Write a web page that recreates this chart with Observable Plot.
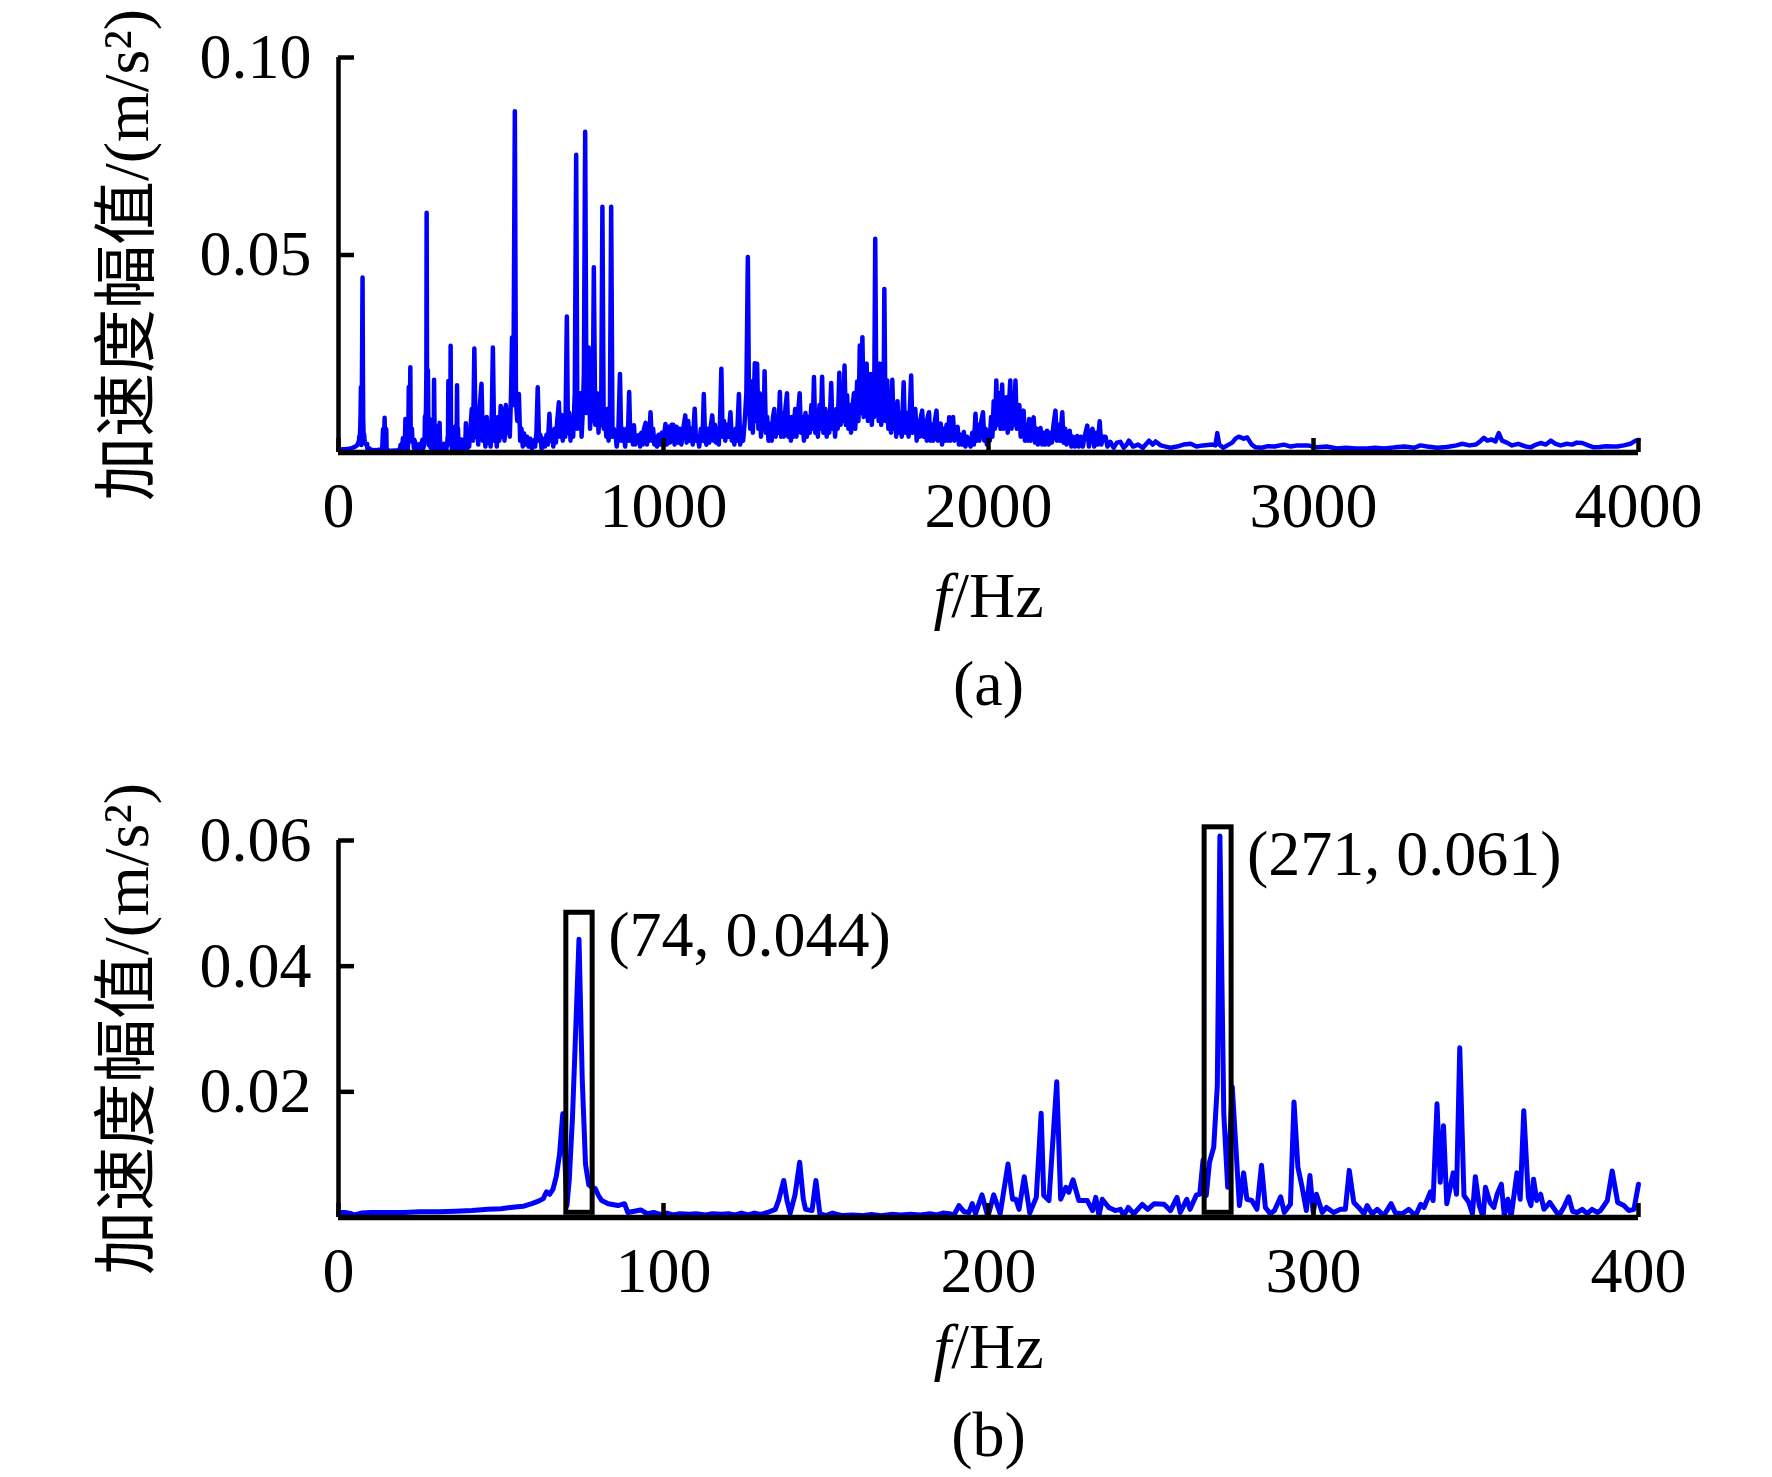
<!DOCTYPE html>
<html><head><meta charset="utf-8">
<script src="https://cdn.jsdelivr.net/npm/d3@7"></script>
<script src="https://cdn.jsdelivr.net/npm/@observablehq/plot@0.6"></script>
<style>
html,body{margin:0;padding:0;background:#fff;overflow:hidden;}
#chart svg{display:block;}
</style></head><body><div id="chart"></div>
<script>
// Spectrum 0–400 Hz: [frequency Hz, amplitude m/s²]
const lowBand = [[0,0.0008],[2,0.0008],[4,0.0006],[5,0.0004],[7,0.0007],[10,0.0008],[15,0.0008],[20,0.0008],[25,0.0009],[31,0.0009],[36,0.0010],[41,0.0011],[46,0.0013],[50,0.0014],[53,0.0016],[55,0.0017],[57,0.0018],[59.5,0.0022],[61.5,0.0026],[63,0.0030],[64,0.0041],[65,0.0037],[66,0.0045],[67,0.0065],[68,0.0100],[69,0.0165],[70.3,0.0019],[71,0.0060],[72,0.0160],[73,0.0300],[74,0.0443],[75,0.0220],[76,0.0085],[77,0.0052],[78,0.0048],[79,0.0046],[80,0.0035],[81,0.0027],[83,0.0022],[86,0.0019],[88,0.0022],[89,0.0008],[91,0.0010],[93,0.0012],[95,0.0006],[97,0.0008],[99,0.0005],[101,0.0007],[103,0.0004],[105,0.0006],[108,0.0005],[110,0.0006],[113,0.0004],[115,0.0006],[118,0.0005],[120,0.0006],[122,0.0004],[124,0.0007],[126,0.0004],[128,0.0007],[130,0.0005],[132,0.0008],[134.4,0.0013],[135.4,0.0027],[137,0.0059],[138,0.0027],[139,0.0007],[140.5,0.0037],[141.9,0.0088],[143,0.0030],[143.7,0.0013],[145.7,0.0011],[146.9,0.0059],[148.1,0.0006],[150,0.0003],[152,0.0007],[155,0.0003],[158,0.0004],[161,0.0003],[164,0.0005],[167,0.0003],[170,0.0005],[173,0.0004],[176,0.0005],[179,0.0004],[182,0.0006],[184,0.0004],[186,0.0007],[188,0.0006],[189.4,0.0004],[190.9,0.0019],[192.5,0.0009],[194,0.0008],[195,0.0022],[196,0.0006],[198,0.0036],[199.8,0.0001],[201.6,0.0036],[203.6,0.0006],[206,0.0085],[207.4,0.0029],[208.4,0.0029],[209.4,0.0013],[211,0.0065],[212.7,0.0007],[214.7,0.0032],[216.2,0.0166],[217,0.0035],[218.6,0.0027],[221,0.0216],[222.2,0.0029],[223.8,0.0048],[224.7,0.0040],[226,0.0060],[227.8,0.0027],[230.4,0.0027],[232,0.0011],[233,0.0032],[234,0.0003],[235,0.0029],[237,0.0016],[239,0.0011],[240.6,0.0013],[241.6,0.0003],[243,0.0016],[244.7,0.0006],[247.3,0.0021],[249,0.0013],[251,0.0022],[254,0.0021],[256,0.0011],[258,0.0032],[259,0.0008],[261,0.0029],[262,0.0013],[264,0.0036],[265,0.0037],[266,0.0091],[267,0.0035],[268,0.0088],[269.3,0.0112],[270.4,0.0210],[271.2,0.0607],[272.4,0.0165],[273.6,0.0048],[275,0.0208],[277.2,0.0019],[278.5,0.0071],[279.5,0.0029],[281,0.0027],[282.6,0.0013],[284,0.0083],[285.2,0.0016],[286.7,0.0006],[288,0.0011],[289.9,0.0033],[291,0.0008],[292.9,0.0021],[294,0.0184],[295.2,0.0080],[296.5,0.0048],[297.8,0.0011],[298.9,0.0067],[299.9,0.0008],[300.9,0.0037],[302.7,0.0008],[304,0.0016],[306.2,0.0008],[308.3,0.0013],[309.8,0.0013],[311,0.0075],[312.4,0.0024],[313.9,0.0016],[315.5,0.0006],[316.5,0.0019],[318,0.0006],[319.6,0.0013],[321.6,0.0003],[323.9,0.0022],[325.2,0.0007],[327.3,0.0006],[329.3,0.0013],[331.4,0.0003],[333,0.0021],[334,0.0016],[336,0.0041],[336.8,0.0027],[338,0.0181],[339,0.0056],[340,0.0146],[341,0.0022],[343,0.0071],[344,0.0037],[345,0.0270],[346.3,0.0035],[347.8,0.0024],[348.9,0.0006],[349.8,0.0065],[351,0.0019],[352.2,0.0001],[352.9,0.0048],[354.3,0.0024],[355.5,0.0016],[356.5,0.0037],[357.8,0.0053],[358.7,0.0003],[359.8,0.0029],[360.8,0.0001],[362.6,0.0071],[363.6,0.0029],[364.7,0.0170],[366.1,0.0032],[366.9,0.0019],[367.7,0.0061],[368.7,0.0027],[369.9,0.0037],[370.9,0.0013],[372.7,0.0024],[375.5,0.0003],[377,0.0016],[378.5,0.0033],[379.7,0.0010],[381.2,0.0008],[382.7,0.0013],[384.2,0.0006],[385.7,0.0013],[387.3,0.0008],[388.3,0.0011],[390.4,0.0027],[391.9,0.0074],[393.6,0.0024],[395.5,0.0019],[397,0.0011],[398.6,0.0013],[400,0.0053]];

// Spectrum 400–4000 Hz: [frequency Hz, amplitude m/s²]
const highBand = [[402,0.0015],[406,0.0060],[410,0.0110],[414,0.0030],[418,0.0263],[422,0.0040],[426,0.0080],[430,0.0020],[434,0.0110],[440,0.0174],[444,0.0030],[448,0.0070],[452,0.0015],[456,0.0090],[460,0.0025],[464,0.0060],[468,0.0015],[472,0.0110],[475,0.0266],[479,0.0030],[483,0.0070],[487,0.0015],[491,0.0090],[495,0.0030],[499,0.0118],[503,0.0040],[507,0.0110],[511,0.0030],[515,0.0120],[519,0.0050],[523,0.0100],[527,0.0040],[531,0.0150],[534,0.0291],[538,0.0120],[542.6,0.0864],[546,0.0130],[550,0.0080],[555,0.0148],[559,0.0030],[563,0.0060],[567,0.0015],[571,0.0048],[575,0.0020],[580,0.0040],[585,0.0015],[590,0.0035],[595,0.0010],[600,0.0030],[605,0.0015],[609,0.0050],[613,0.0165],[617,0.0030],[621,0.0045],[625,0.0010],[630,0.0035],[635,0.0015],[640,0.0045],[644,0.0020],[649,0.0098],[653,0.0030],[657,0.0055],[661,0.0015],[665,0.0060],[669,0.0025],[673,0.0080],[678,0.0127],[682,0.0040],[686,0.0095],[690,0.0030],[694,0.0080],[698,0.0040],[702.6,0.0344],[706,0.0050],[710,0.0100],[714,0.0030],[718,0.0090],[722,0.0040],[727,0.0150],[731.3,0.0754],[735,0.0060],[740,0.0120],[744.6,0.0150],[748,0.0040],[752,0.0110],[755,0.0200],[759,0.0812],[763,0.0100],[766,0.0180],[770,0.0266],[774,0.0060],[778,0.0140],[782,0.0080],[785.6,0.0469],[790,0.0070],[793,0.0130],[796,0.0150],[800,0.0050],[804,0.0120],[808,0.0070],[812,0.0622],[816,0.0060],[820,0.0100],[824,0.0040],[827,0.0110],[831,0.0030],[835,0.0090],[839,0.0622],[843,0.0040],[847,0.0060],[852,0.0050],[856,0.0015],[861,0.0050],[866,0.0199],[870,0.0030],[874,0.0060],[878,0.0050],[882,0.0015],[886,0.0060],[890,0.0030],[894.4,0.0153],[898,0.0030],[902,0.0060],[906,0.0020],[909,0.0069],[913,0.0020],[918,0.0040],[924,0.0044],[928,0.0015],[932,0.0050],[936,0.0020],[940,0.0060],[945,0.0075],[949,0.0020],[953,0.0060],[956,0.0030],[960,0.0102],[964,0.0030],[968,0.0060],[972,0.0020],[975,0.0040],[980,0.0015],[985,0.0045],[990,0.0020],[995,0.0050],[1000,0.0030],[1006,0.0072],[1010,0.0020],[1015,0.0065],[1020,0.0025],[1025,0.0070],[1030,0.0070],[1034,0.0020],[1040,0.0065],[1045,0.0025],[1050,0.0060],[1055,0.0020],[1060,0.0055],[1067,0.0094],[1071,0.0025],[1076,0.0080],[1080,0.0030],[1085,0.0060],[1090,0.0020],[1096,0.0111],[1100,0.0030],[1105,0.0040],[1110,0.0015],[1115,0.0060],[1120,0.0030],[1124,0.0148],[1128,0.0030],[1132,0.0020],[1137,0.0060],[1141,0.0025],[1146,0.0070],[1150,0.0094],[1154,0.0030],[1158,0.0070],[1162,0.0025],[1166,0.0060],[1170,0.0020],[1174,0.0080],[1178,0.0212],[1182,0.0040],[1186,0.0080],[1190,0.0030],[1195,0.0070],[1200,0.0040],[1206,0.0102],[1210,0.0030],[1214,0.0050],[1218,0.0020],[1222,0.0060],[1226,0.0030],[1232,0.0148],[1236,0.0020],[1240,0.0060],[1245,0.0030],[1250,0.0080],[1255,0.0150],[1259.5,0.0495],[1263,0.0130],[1267,0.0060],[1271,0.0180],[1275,0.0050],[1281,0.0226],[1284,0.0080],[1288,0.0225],[1292,0.0060],[1296,0.0150],[1300,0.0040],[1304,0.0120],[1308,0.0060],[1311,0.0206],[1315,0.0050],[1319,0.0090],[1323,0.0030],[1329,0.0073],[1333,0.0030],[1337,0.0090],[1341,0.0110],[1345,0.0040],[1350,0.0090],[1354,0.0050],[1358,0.0153],[1362,0.0040],[1366,0.0100],[1370,0.0040],[1375,0.0110],[1380,0.0150],[1384,0.0040],[1388,0.0090],[1392,0.0030],[1396,0.0090],[1400,0.0040],[1405,0.0110],[1409,0.0040],[1414,0.0100],[1419,0.0150],[1423,0.0050],[1428,0.0090],[1432,0.0030],[1437,0.0100],[1441,0.0040],[1446,0.0090],[1450,0.0050],[1455,0.0120],[1459,0.0060],[1463,0.0191],[1467,0.0050],[1471,0.0100],[1475,0.0040],[1480,0.0120],[1484,0.0060],[1488,0.0192],[1492,0.0050],[1495,0.0080],[1498,0.0110],[1502,0.0040],[1506,0.0100],[1510,0.0050],[1516,0.0176],[1520,0.0060],[1524,0.0100],[1528,0.0040],[1532,0.0110],[1536,0.0060],[1541,0.0202],[1545,0.0070],[1549,0.0140],[1553,0.0080],[1557,0.0220],[1561,0.0070],[1565,0.0145],[1569,0.0060],[1573,0.0120],[1577,0.0050],[1581,0.0110],[1586,0.0150],[1590,0.0060],[1593,0.0130],[1596,0.0180],[1600,0.0080],[1604,0.0271],[1608,0.0100],[1612,0.0292],[1616,0.0090],[1620,0.0160],[1625,0.0225],[1629,0.0080],[1633,0.0150],[1637,0.0199],[1641,0.0070],[1645,0.0140],[1648,0.0090],[1651.5,0.0541],[1655,0.0100],[1659,0.0160],[1662,0.0080],[1666,0.0225],[1670,0.0070],[1674,0.0150],[1677,0.0090],[1679.5,0.0414],[1683,0.0080],[1688.6,0.0182],[1692,0.0060],[1696,0.0120],[1700,0.0050],[1704,0.0184],[1708,0.0060],[1712,0.0110],[1716,0.0040],[1720,0.0130],[1724,0.0050],[1729,0.0100],[1733,0.0040],[1739,0.0178],[1743,0.0050],[1747,0.0090],[1750,0.0100],[1754,0.0040],[1758,0.0110],[1762,0.0195],[1766,0.0050],[1770,0.0090],[1775,0.0110],[1779,0.0030],[1784,0.0080],[1788,0.0040],[1792,0.0090],[1796,0.0106],[1800,0.0040],[1805,0.0080],[1810,0.0030],[1813,0.0090],[1817,0.0102],[1821,0.0030],[1826,0.0070],[1830,0.0030],[1835,0.0080],[1840,0.0106],[1844,0.0030],[1848,0.0060],[1853,0.0073],[1857,0.0020],[1862,0.0060],[1866,0.0030],[1871,0.0070],[1875,0.0030],[1879,0.0089],[1883,0.0030],[1887,0.0070],[1891,0.0090],[1895,0.0030],[1900,0.0050],[1905,0.0065],[1909,0.0020],[1914,0.0045],[1919,0.0020],[1924,0.0052],[1929,0.0015],[1934,0.0040],[1940,0.0030],[1945,0.0015],[1950,0.0050],[1955,0.0020],[1960,0.0098],[1964,0.0030],[1968,0.0070],[1972,0.0030],[1978,0.0080],[1983,0.0102],[1987,0.0030],[1991,0.0060],[1995,0.0020],[2000,0.0055],[2004,0.0030],[2008,0.0090],[2012,0.0040],[2016,0.0130],[2020,0.0060],[2024,0.0182],[2028,0.0070],[2033,0.0150],[2037,0.0060],[2042,0.0172],[2046,0.0060],[2050,0.0120],[2055,0.0140],[2059,0.0050],[2063,0.0120],[2067,0.0182],[2071,0.0060],[2075,0.0150],[2079,0.0070],[2083,0.0182],[2087,0.0060],[2091,0.0110],[2095,0.0120],[2099,0.0040],[2104,0.0080],[2108,0.0106],[2112,0.0030],[2117,0.0070],[2121,0.0030],[2125,0.0085],[2129,0.0030],[2134,0.0070],[2139,0.0089],[2143,0.0025],[2148,0.0060],[2152,0.0020],[2156,0.0050],[2160,0.0062],[2165,0.0020],[2170,0.0050],[2175,0.0020],[2180,0.0055],[2185,0.0020],[2190,0.0050],[2195,0.0025],[2200,0.0070],[2206,0.0106],[2210,0.0030],[2215,0.0070],[2220,0.0030],[2227,0.0102],[2231,0.0025],[2236,0.0060],[2240,0.0020],[2245,0.0045],[2250,0.0055],[2255,0.0015],[2260,0.0040],[2266,0.0015],[2273,0.0042],[2278,0.0015],[2284,0.0040],[2290,0.0015],[2297,0.0045],[2304,0.0068],[2309,0.0015],[2314,0.0050],[2320,0.0060],[2325,0.0015],[2331,0.0050],[2336,0.0020],[2342,0.0079],[2347,0.0020],[2353,0.0040],[2360,0.0040],[2366,0.0015],[2375,0.0027],[2385,0.0012],[2395,0.0025],[2406,0.0027],[2416,0.0012],[2425,0.0020],[2432,0.0030],[2445,0.0015],[2460,0.0020],[2475,0.0012],[2494,0.0030],[2505,0.0020],[2514,0.0028],[2530,0.0018],[2545,0.0015],[2560,0.0012],[2580,0.0015],[2600,0.0020],[2622,0.0022],[2640,0.0015],[2660,0.0018],[2688,0.0020],[2698,0.0018],[2704,0.0049],[2710,0.0020],[2722,0.0012],[2739,0.0020],[2750,0.0025],[2760,0.0035],[2770,0.0040],[2785,0.0035],[2796,0.0038],[2810,0.0020],[2822,0.0013],[2840,0.0012],[2860,0.0016],[2880,0.0015],[2909,0.0020],[2930,0.0015],[2950,0.0018],[2981,0.0018],[3000,0.0015],[3012,0.0013],[3040,0.0015],[3073,0.0010],[3100,0.0012],[3130,0.0010],[3165,0.0010],[3190,0.0012],[3217,0.0010],[3250,0.0013],[3280,0.0015],[3310,0.0012],[3329,0.0018],[3350,0.0015],[3380,0.0012],[3410,0.0014],[3440,0.0018],[3457,0.0022],[3480,0.0018],[3500,0.0020],[3515,0.0030],[3524,0.0037],[3535,0.0030],[3548,0.0033],[3560,0.0028],[3570,0.0049],[3580,0.0030],[3595,0.0025],[3611,0.0018],[3630,0.0022],[3650,0.0016],[3668,0.0013],[3685,0.0020],[3699,0.0024],[3715,0.0020],[3730,0.0030],[3745,0.0022],[3760,0.0018],[3780,0.0022],[3796,0.0020],[3810,0.0025],[3827,0.0024],[3845,0.0018],[3863,0.0013],[3880,0.0014],[3900,0.0016],[3920,0.0015],[3935,0.0015],[3955,0.0018],[3975,0.0022],[3991,0.0030],[4000,0.0032]];

const xTicksA = [0, 1000, 2000, 3000, 4000];
const yTicksA = [0.05, 0.10];
const xTicksB = [0, 100, 200, 300, 400];
const yTicksB = [0.02, 0.04, 0.06];

// Annotated peaks (panel b)
const peakHz = [74, 271];
const peakAmp = [0.044, 0.061];
// highlight boxes around peaks: [f1, f2, a1, a2]
const peakBoxes = [[70.1, 78.2, 0.00075, 0.0485], [266.5, 274.8, 0.00075, 0.0621]];
// label anchor (left edge, vertical centre) in data units
const peakLabelAt = [[83, 0.0449], [279.5, 0.0577]];

const yTitle = "加速度幅值/(m/s²)";
const xTitle = "f/Hz";
const panelTags = ["(a)", "(b)"];

const FONT = "'Liberation Serif','Times New Roman','Noto Sans CJK SC',serif";
const FS = 64;

function panel({data, xDomain, yDomain, xTicks, yTicks, height, marginTop, marginBottom, lineWidth, tag, xTitleDy, tagDy, extra = []}) {
  return Plot.plot({
    width: 1772, height, marginLeft: 338, marginRight: 134, marginTop, marginBottom,
    x: {domain: xDomain}, y: {domain: yDomain},
    style: {fontFamily: FONT, fontSize: FS + "px", color: "black", background: "white", overflow: "visible"},
    marks: [
      Plot.line(data, {x: d => d[0], y: d => d[1], stroke: "#0000ff", strokeWidth: lineWidth, strokeLinejoin: "round", strokeLinecap: "round"}),
      ...extra,
      Plot.ruleX([xDomain[0]], {stroke: "black", strokeWidth: 4.5}),
      Plot.ruleY([yDomain[0]], {stroke: "black", strokeWidth: 5.5}),
      Plot.axisX(xTicks, {tickSize: 14, dy: -14, fill: "none", stroke: "black", strokeWidth: 4.5, label: null}),
      Plot.axisX(xTicks, {tickSize: 0, tickPadding: 29, fontSize: FS, fill: "black", label: null, tickFormat: d => String(d)}),
      Plot.axisY(yTicks, {tickSize: 16, dx: 16, fill: "none", stroke: "black", strokeWidth: 4.5, label: null}),
      Plot.axisY(yTicks, {tickSize: 0, tickPadding: 27, fontSize: FS, fill: "black", label: null, tickFormat: d3.format(".2f")}),
      Plot.text([xTitle], {frameAnchor: "bottom", dy: xTitleDy, fontSize: FS, lineAnchor: "middle", fill: "black"}),
      Plot.text([tag], {frameAnchor: "bottom", dy: tagDy, fontSize: FS, lineAnchor: "middle", fill: "black"}),
      Plot.text([yTitle], {frameAnchor: "left", dx: -211, rotate: -90, fontSize: FS, textAnchor: "middle", lineAnchor: "middle", fill: "black"})
    ]
  });
}

const svgA = panel({
  data: lowBand.concat(highBand), xDomain: [0, 4000], yDomain: [0, 0.10],
  xTicks: xTicksA, yTicks: yTicksA, height: 740, marginTop: 57, marginBottom: 288,
  lineWidth: 4.5, tag: panelTags[0], xTitleDy: 144, tagDy: 232
});

const peaks = peakHz.map((f, i) => ({f, a: peakAmp[i], lx: peakLabelAt[i][0], ly: peakLabelAt[i][1], box: peakBoxes[i]}));

const svgB = panel({
  data: lowBand, xDomain: [0, 400], yDomain: [0, 0.06],
  xTicks: xTicksB, yTicks: yTicksB, height: 737, marginTop: 100, marginBottom: 260,
  lineWidth: 5, tag: panelTags[1], xTitleDy: 130, tagDy: 218,
  extra: [
    Plot.rect(peaks, {x1: d => d.box[0], x2: d => d.box[1], y1: d => d.box[2], y2: d => d.box[3], fill: "none", stroke: "black", strokeWidth: 5}),
    Plot.text(peaks, {x: d => d.lx, y: d => d.ly, text: d => `(${d.f}, ${d.a})`, textAnchor: "start", lineAnchor: "middle", fontSize: FS, fill: "black"})
  ]
});

for (const svg of [svgA, svgB]) {
  d3.select(svg).selectAll("text").filter(function () { return this.textContent === xTitle; }).each(function () {
    const t = d3.select(this);
    t.text(null);
    t.append("tspan").attr("font-style", "italic").text("f");
    t.append("tspan").text("/Hz");
  });
  document.getElementById("chart").appendChild(svg);
}
</script></body></html>
